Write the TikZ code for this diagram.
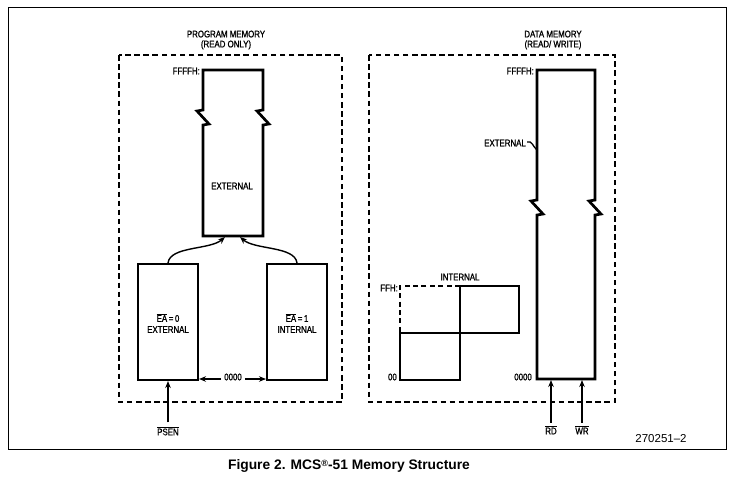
\documentclass[tikz,border=0pt]{standalone}
\usepackage{fontspec}
\setmainfont{Liberation Sans}
\newfontfamily\dfont[FakeStretch=0.82,FakeBold=1.2]{Liberation Sans}
\usetikzlibrary{arrows.meta}
\begin{document}
\begin{tikzpicture}[x=1pt,y=-1pt,
  mem/.style={line width=2.7pt, line join=miter},
  dashbox/.style={line width=2.7pt, dash pattern=on 5.5pt off 3.6pt},
  lbl/.style={font=\dfont\fontsize{9.6}{10}\selectfont, inner sep=0pt, text=black},
  arr/.style={-{Stealth[length=7pt,width=5.5pt]}, line width=1.4pt},
  frame/.style={line width=1pt}]
\useasboundingbox (0,0) rectangle (735,482);
% outer frame
\draw[frame] (8,7) rectangle (726,449);
% dashed regions
\draw[dashbox] (119,55) rectangle (342,402);
\draw[dashbox] (369,55) rectangle (615,402);
% titles
\node[lbl, align=center] (ptitle) at (226,40) {PROGRAM MEMORY\\[0pt](READ ONLY)};
\node[lbl, align=center] (dtitle) at (553,40) {DATA MEMORY\\[0pt](READ/ WRITE)};
% program memory external box with break
\draw[mem] (203,236) -- (203,125) -- (209,124) -- (197,111) -- (203,110) -- (203,70)
  -- (263,70) -- (263,110) -- (257,111) -- (269,124) -- (263,125) -- (263,236) -- cycle;
\node[lbl] (pext) at (232,186) {EXTERNAL};
\node[lbl, anchor=east] (pffff) at (200,71) {FFFFH:};
\coordinate (pin1) at (225,237);
\coordinate (pin2) at (240,237);
% lower boxes
\draw[mem] (138,264) rectangle (198,380);
\draw[mem] (267,264) rectangle (327,380);
\node[lbl, align=center] (ea0) at (168,323) {$\overline{\hbox{EA}}$\,=\,0\\[1pt]EXTERNAL};
\node[lbl, align=center] (ea1) at (297,323) {$\overline{\hbox{EA}}$\,=\,1\\[1pt]INTERNAL};
\coordinate (l0) at (168,263);
\coordinate (r0) at (297,263);
\draw[arr] (l0) .. controls (170,246) and (210,250) .. (pin1);
\draw[arr] (r0) .. controls (295,246) and (255,250) .. (pin2);
% 0000 between
\node[lbl] (z0) at (233,377) {0000};
\coordinate (lbr) at (199,379);
\coordinate (rbl) at (266,379);
\draw[arr] (z0.west) ++(-3,2) -- (lbr);
\draw[arr] (z0.east) ++(3,2) -- (rbl);
% PSEN
\node[lbl] (psen) at (168,431) {$\overline{\hbox{PSEN}}$};
\coordinate (psenin) at (168,381);
\draw[arr] (psen.north) ++(0,-4) -- (psenin);
% data memory external
\draw[mem] (537,379) -- (537,215) -- (543,214) -- (531,201) -- (537,200) -- (537,70)
  -- (595,70) -- (595,200) -- (589,201) -- (601,214) -- (595,215) -- (595,379) -- cycle;
\node[lbl, anchor=east] (dffff) at (534,71) {FFFFH:};
\node[lbl, anchor=east] (dext) at (526,143) {EXTERNAL};
\coordinate (dedge) at (537,150);
\draw[line width=1.3pt] (dext.east) ++(1,-1) .. controls (532,140) and (533,147) .. (dedge);
\node[lbl, anchor=east] (d0000) at (532,377) {0000};
% internal
\draw[line width=2.5pt, dash pattern=on 5pt off 3.4pt] (460,286) -- (400,286) -- (400,333);
\draw[mem] (460,286) rectangle (519,333);
\draw[mem] (400,333) rectangle (460,380);
\node[lbl] (dint) at (460,277) {INTERNAL};
\node[lbl, anchor=east] (dffh) at (398,288) {FFH:};
\node[lbl, anchor=east] (d00) at (397,377) {00};
% RD WR
\node[lbl] (rd) at (551,430) {$\overline{\hbox{RD}}$};
\node[lbl] (wr) at (582,430) {$\overline{\hbox{WR}}$};
\coordinate (rdin) at (551,380);
\coordinate (wrin) at (582,380);
\draw[arr] (rd.north) ++(0,-3) -- (rdin);
\draw[arr] (wr.north) ++(0,-3) -- (wrin);
% reference number
\node[font=\fontsize{11.5}{13}\selectfont, inner sep=0pt] (refno) at (661,439) {270251--2};
% caption
\node[font=\fontsize{13.8}{15}\selectfont\bfseries, inner sep=0pt] (cap) at (349,466)
  {Figure 2. MCS{\fontsize{9}{9}\selectfont\raisebox{3.5pt}{®}}-51 Memory Structure};
\end{tikzpicture}
\end{document}
